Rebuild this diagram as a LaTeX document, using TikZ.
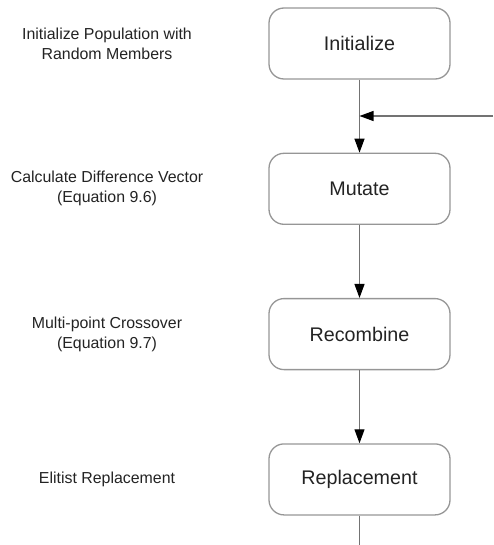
\documentclass[tikz,border=0pt]{standalone}
\usepackage{fontspec}
\setmainfont{Liberation Sans}
\usepackage{tikz}
\usetikzlibrary{arrows.meta,positioning}
\usepackage{xcolor}
\definecolor{boxgray}{RGB}{150,150,150}
\definecolor{linegray}{RGB}{115,115,115}
\definecolor{textdark}{RGB}{35,35,35}

\begin{document}
\begin{tikzpicture}[x=1pt,y=-1pt,
    stage/.style={draw=boxgray, line width=1.3pt, rounded corners=15pt,
        minimum width=181pt, minimum height=71pt,
        font=\fontsize{19.7}{23}\selectfont, text=textdark},
    note/.style={align=center, font=\fontsize{15.9}{20}\selectfont, text=textdark},
    flow/.style={draw=linegray, line width=1.2pt,
        -{Triangle[length=14pt,width=10pt,color=black]}},
    node distance=73pt]
    \useasboundingbox (0,0) rectangle (493,545);

    % Steps
    \node[stage] (init) at (359.5,43.5) {Initialize};
    \node[stage, below=of init] (mutate) {Mutate};
    \node[stage, below=of mutate] (recomb) {Recombine};
    \node[stage, below=of recomb] (replace) {Replacement};

    % Notes on the left
    \coordinate (notecol) at (107,0);
    \node[note] (initnote) at (notecol |- init) {Initialize Population with\\Random Members};
    \node[note] (mutatenote) at (notecol |- mutate) {Calculate Difference Vector\\(Equation 9.6)};
    \node[note] (recombnote) at (notecol |- recomb) {Multi-point Crossover\\(Equation 9.7)};
    \node[note] (replacenote) at (notecol |- replace) {Elitist Replacement};

    % Flow
    \draw[flow] (init) -- (mutate);
    \draw[flow] (mutate) -- (recomb);
    \draw[flow] (recomb) -- (replace);

    % Loop back in from the right
    \coordinate (loopin) at (493,116);
    \coordinate (join) at (init |- loopin);
    \draw[flow] (loopin) -- (join);

    % Tail going down
    \coordinate (pageend) at (0,545);
    \draw[draw=linegray, line width=1.2pt] (replace) -- (replace |- pageend);
\end{tikzpicture}
\end{document}
